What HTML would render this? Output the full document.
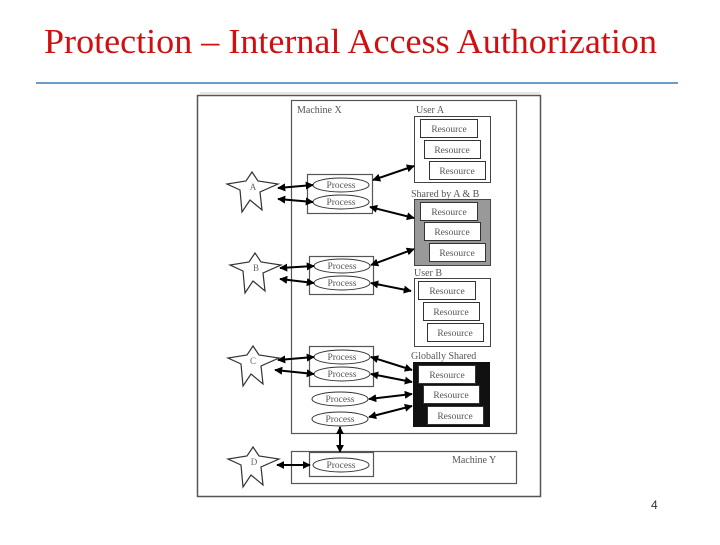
<!DOCTYPE html>
<html><head><style>
body{margin:0;background:#fff;width:720px;height:540px;overflow:hidden}
svg text{font-family:"Liberation Serif",serif}
</style></head><body>
<svg width="720" height="540" viewBox="0 0 720 540" xmlns="http://www.w3.org/2000/svg">
<defs>
<marker id="ah" viewBox="0 0 10 10" refX="9" refY="5" markerWidth="4" markerHeight="4" orient="auto-start-reverse"><path d="M0,0L10,5L0,10z" fill="#000"/></marker>
<g id="star"><polygon points="0,-17 -6,-8 -25,-5 -12,1 -10,23 -2,11 10,21 8,3 26,-5 6,-8" fill="#fff" stroke="#333" stroke-width="1.2"/></g>
</defs>
<text x="44" y="53" font-size="35" fill="#d01010" textLength="613" lengthAdjust="spacingAndGlyphs">Protection – Internal Access Authorization</text>
<line x1="36" y1="83" x2="678" y2="83" stroke="#6f9bc6" stroke-width="2"/>
<line x1="200" y1="93" x2="540" y2="93" stroke="#ccc" stroke-width="1"/>
<rect x="197.5" y="95.5" width="343" height="401" fill="#fff" stroke="#555" stroke-width="1.5"/>
<rect x="291.5" y="100.5" width="225" height="333" fill="#fff" stroke="#555" stroke-width="1.2"/>
<rect x="291.5" y="451.5" width="225" height="32" fill="#fff" stroke="#555" stroke-width="1.2"/>
<g font-size="10" fill="#555">
<text x="297" y="113">Machine X</text>
<text x="416" y="113">User A</text>
<text x="411" y="197">Shared by A &amp; B</text>
<text x="414" y="276">User B</text>
<text x="411" y="359">Globally Shared</text>
<text x="452" y="463">Machine Y</text>
</g>
<rect x="414.5" y="116.5" width="76" height="66" fill="#fff" stroke="#444"/>
<rect x="414.5" y="199.5" width="76" height="66" fill="#999" stroke="#444"/>
<rect x="414.5" y="278.5" width="76" height="68" fill="#fff" stroke="#444"/>
<rect x="413" y="362" width="77" height="65" fill="#111"/>
<g fill="#fff" stroke="#333" font-size="10">
<rect x="420.5" y="119.5" width="57" height="18"/><rect x="424.5" y="140.5" width="56" height="18"/><rect x="429.5" y="161.5" width="56" height="18"/>
<rect x="420.5" y="202.5" width="57" height="18"/><rect x="424.5" y="222.5" width="56" height="18"/><rect x="429.5" y="243.5" width="56" height="18"/>
<rect x="418.5" y="281.5" width="57" height="18"/><rect x="423.5" y="302.5" width="56" height="18"/><rect x="427.5" y="323.5" width="56" height="18"/>
<rect x="418.5" y="365.5" width="57" height="18"/><rect x="423.5" y="385.5" width="56" height="18"/><rect x="427.5" y="406.5" width="56" height="18"/>
</g>
<g font-size="9.5" fill="#555" text-anchor="middle">
<text x="449" y="132">Resource</text><text x="452" y="153">Resource</text><text x="457" y="174">Resource</text>
<text x="449" y="215">Resource</text><text x="452" y="235">Resource</text><text x="457" y="256">Resource</text>
<text x="447" y="294">Resource</text><text x="451" y="315">Resource</text><text x="455" y="336">Resource</text>
<text x="447" y="378">Resource</text><text x="451" y="398">Resource</text><text x="455" y="419">Resource</text>
</g>
<g fill="#fff" stroke="#555" stroke-width="1.2">
<rect x="307.5" y="174.5" width="65" height="39"/>
<rect x="309.5" y="256.5" width="64" height="38"/>
<rect x="309.5" y="346.5" width="64" height="40"/>
<rect x="309.5" y="452.5" width="64" height="24"/>
</g>
<g fill="#fff" stroke="#333">
<ellipse cx="341" cy="185" rx="28" ry="7"/><ellipse cx="341" cy="202" rx="28" ry="7"/>
<ellipse cx="342" cy="266" rx="28" ry="7"/><ellipse cx="342" cy="283" rx="28" ry="7"/>
<ellipse cx="342" cy="357" rx="28" ry="7"/><ellipse cx="342" cy="374" rx="28" ry="7"/>
<ellipse cx="340" cy="399" rx="28" ry="7"/><ellipse cx="340" cy="419" rx="28" ry="7"/>
<ellipse cx="341" cy="465" rx="28" ry="7"/>
</g>
<g font-size="9.5" fill="#555" text-anchor="middle">
<text x="341" y="188">Process</text><text x="341" y="205">Process</text>
<text x="342" y="269">Process</text><text x="342" y="286">Process</text>
<text x="342" y="360">Process</text><text x="342" y="377">Process</text>
<text x="340" y="402">Process</text><text x="340" y="422">Process</text>
<text x="341" y="468">Process</text>
</g>
<use href="#star" x="252" y="189"/><use href="#star" x="255" y="270"/>
<use href="#star" x="253" y="363"/><use href="#star" x="253" y="464"/>
<g font-size="9" fill="#666" text-anchor="middle">
<text x="253" y="190">A</text><text x="256" y="271">B</text><text x="253" y="364">C</text><text x="254" y="465">D</text>
</g>
<g stroke="#000" stroke-width="2" marker-start="url(#ah)" marker-end="url(#ah)">
<line x1="278" y1="188" x2="313" y2="185"/><line x1="278" y1="199" x2="313" y2="202"/>
<line x1="373" y1="180" x2="414" y2="166"/><line x1="370" y1="207" x2="414" y2="218"/>
<line x1="280" y1="268" x2="314" y2="266"/><line x1="280" y1="279" x2="314" y2="283"/>
<line x1="371" y1="265" x2="414" y2="249"/><line x1="371" y1="283" x2="411" y2="291"/>
<line x1="278" y1="360" x2="314" y2="357"/><line x1="275" y1="370" x2="314" y2="374"/>
<line x1="371" y1="357" x2="412" y2="370"/><line x1="371" y1="374" x2="412" y2="382"/>
<line x1="369" y1="399" x2="412" y2="394"/><line x1="369" y1="417" x2="412" y2="406"/>
<line x1="340" y1="427" x2="340" y2="452"/>
<line x1="277" y1="465" x2="310" y2="465"/>
</g>
<text x="651" y="509" font-size="12" fill="#333" style="font-family:'Liberation Sans',sans-serif">4</text>
</svg>
</body></html>
